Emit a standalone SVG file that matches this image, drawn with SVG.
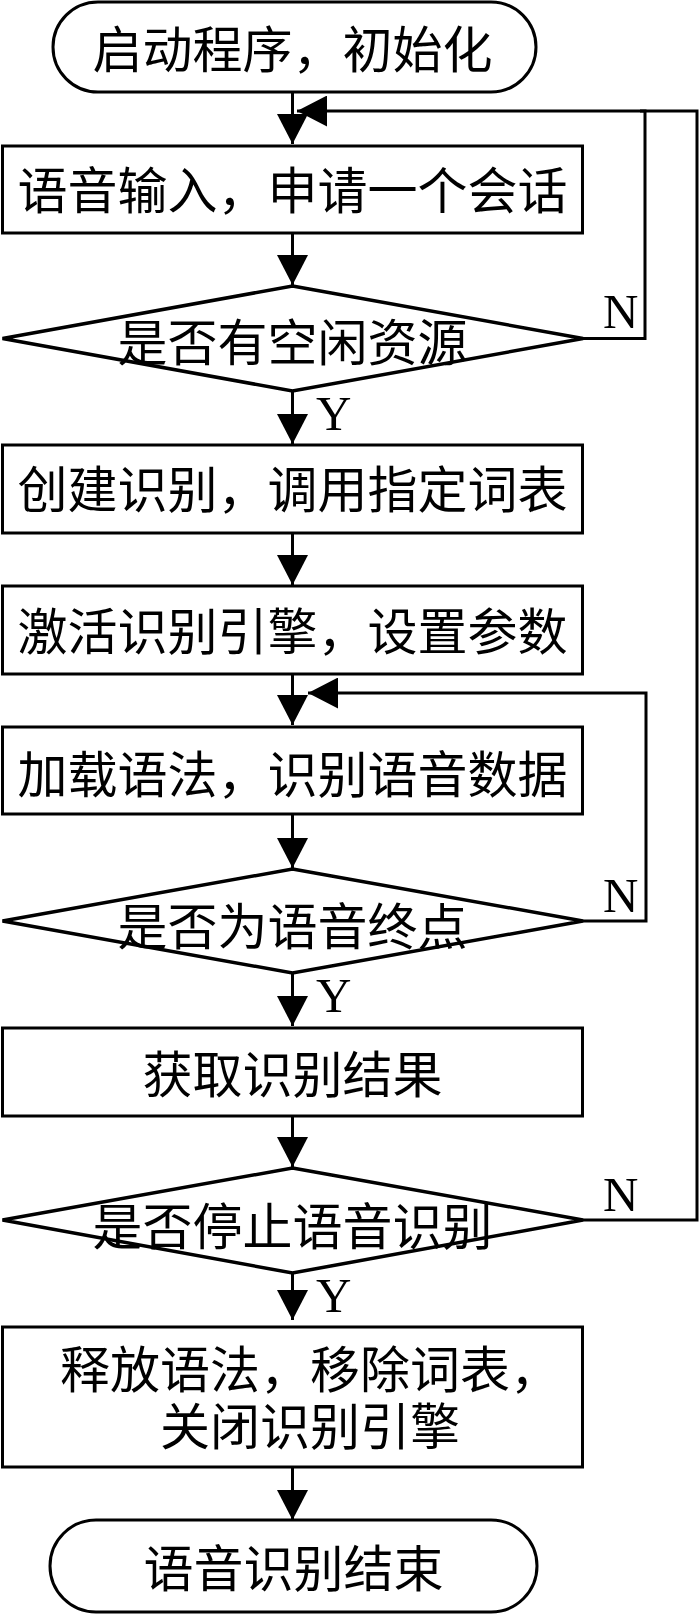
<svg xmlns="http://www.w3.org/2000/svg" width="700" height="1614" viewBox="0 0 700 1614">
<style>
.box{fill:#fff;stroke:#000;stroke-width:3}
.dia{fill:#fff;stroke:#000;stroke-width:3.5;stroke-linejoin:miter}
.t{font-family:'Noto Sans CJK SC','Noto Sans CJK JP',sans-serif;font-size:50px;fill:#000;text-anchor:middle}
.ts{font-family:'Noto Sans CJK SC','Noto Sans CJK JP',sans-serif;font-size:50px;fill:#000;text-anchor:start}
.lbl{font-family:'Liberation Serif','Times New Roman',serif;font-size:49px;fill:#000}
.c{fill:none;stroke:#000;stroke-width:3;stroke-linejoin:miter}
</style>
<defs>
<marker id="ah" viewBox="0 0 30 31" refX="30" refY="15.5" markerWidth="30" markerHeight="31" orient="auto" markerUnits="userSpaceOnUse">
<path d="M0,0 L30,15.5 L0,31 Z" fill="#000"/>
</marker>
</defs>
<rect width="700" height="1614" fill="#fff"/>

<g id="start">
<rect class="box" x="53" y="2" width="483" height="90" rx="45" ry="45"/>
<text class="t" x="292.5" y="68">启动程序，初始化</text>
</g>
<g id="input">
<rect class="box" x="2.5" y="146" width="580" height="87"/>
<text class="t" x="292.5" y="209">语音输入，申请一个会话</text>
</g>
<g id="dec1">
<polygon class="dia" points="292.5,286 583,338.5 292.5,391 2.5,338.5"/>
<text class="t" x="292.5" y="361">是否有空闲资源</text>
</g>
<g id="create">
<rect class="box" x="2.5" y="445" width="580" height="88"/>
<text class="t" x="292.5" y="508">创建识别，调用指定词表</text>
</g>
<g id="activate">
<rect class="box" x="2.5" y="586" width="580" height="88"/>
<text class="t" x="292.5" y="650">激活识别引擎，设置参数</text>
</g>
<g id="load">
<rect class="box" x="2.5" y="727" width="580" height="87"/>
<text class="t" x="292.5" y="793">加载语法，识别语音数据</text>
</g>
<g id="dec2">
<polygon class="dia" points="292.5,869 583,921 292.5,973 2.5,921"/>
<text class="t" x="292.5" y="945">是否为语音终点</text>
</g>
<g id="result">
<rect class="box" x="2.5" y="1028" width="580" height="88"/>
<text class="t" x="292.5" y="1093">获取识别结果</text>
</g>
<g id="dec3">
<polygon class="dia" points="292.5,1168 583,1220 292.5,1273 2.5,1220"/>
<text class="t" x="292.5" y="1245">是否停止语音识别</text>
</g>
<g id="release">
<rect class="box" x="2.5" y="1327" width="580" height="140"/>
<text class="ts" x="60" y="1388">释放语法，移除词表，</text>
<text class="ts" x="160" y="1445">关闭识别引擎</text>
</g>
<g id="end">
<rect class="box" x="50" y="1520" width="487" height="92" rx="46" ry="46"/>
<text class="t" x="293.5" y="1587">语音识别结束</text>
</g>

<g id="connectors">
<path class="c" d="M292.5,92 V144" marker-end="url(#ah)"/>
<path class="c" d="M292.5,233 V285" marker-end="url(#ah)"/>
<path class="c" d="M292.5,391 V444" marker-end="url(#ah)"/>
<path class="c" d="M292.5,533 V585" marker-end="url(#ah)"/>
<path class="c" d="M292.5,674 V725" marker-end="url(#ah)"/>
<path class="c" d="M292.5,814 V868" marker-end="url(#ah)"/>
<path class="c" d="M292.5,973 V1026" marker-end="url(#ah)"/>
<path class="c" d="M292.5,1116 V1167" marker-end="url(#ah)"/>
<path class="c" d="M292.5,1273 V1320" marker-end="url(#ah)"/>
<path class="c" d="M292.5,1467 V1520" marker-end="url(#ah)"/>
<path class="c" d="M583,338.5 H645 V111 H297" marker-end="url(#ah)"/>
<path class="c" d="M583,1220 H697 V111 H640"/>
<path class="c" d="M583,921 H646 V693 H308" marker-end="url(#ah)"/>
<text class="lbl" x="603" y="328">N</text>
<text class="lbl" x="603" y="912">N</text>
<text class="lbl" x="603" y="1211">N</text>
<text class="lbl" x="316" y="430">Y</text>
<text class="lbl" x="316" y="1012">Y</text>
<text class="lbl" x="316" y="1312">Y</text>
</g>
</svg>
